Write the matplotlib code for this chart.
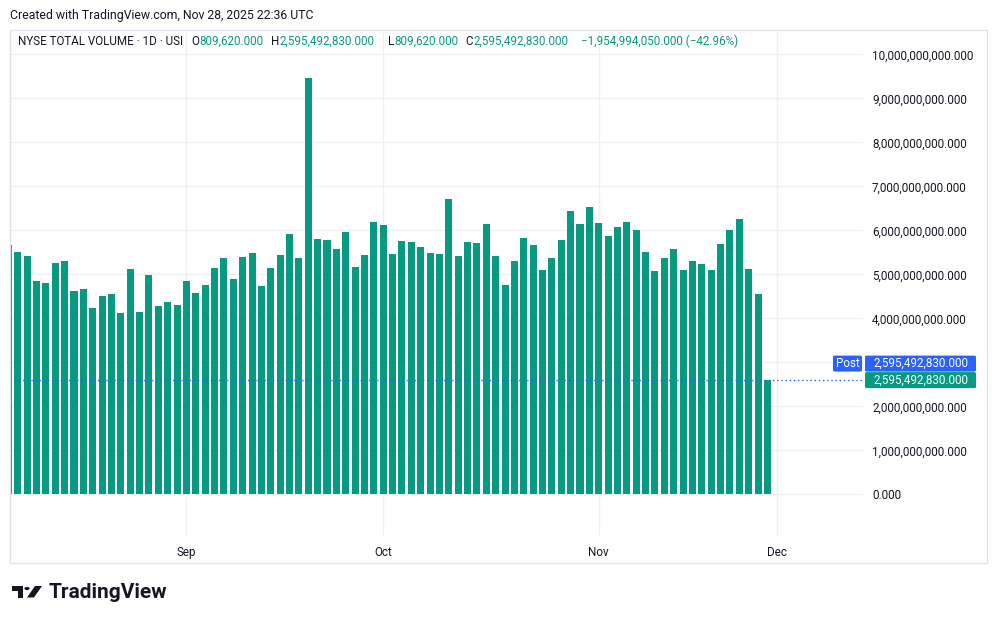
import numpy as np
import matplotlib
matplotlib.use('Agg')
import matplotlib.pyplot as plt
from matplotlib.patches import FancyBboxPatch, Rectangle, Polygon, Circle

# NYSE total volume, daily, in billions
aug_vol = [5.67, 5.51, 5.42, 4.85, 4.80, 5.26, 5.30, 4.62, 4.67, 4.23,
           4.51, 4.55, 4.12, 5.12, 4.14, 4.98, 4.28, 4.37, 4.30]
sep_vol = [4.85, 4.58, 4.76, 5.14, 5.37, 4.89, 5.39, 5.48, 4.73, 5.14,
           5.44, 5.92, 5.37, 9.46, 5.80, 5.78, 5.58, 5.96, 5.17, 5.44, 6.19]
oct_vol = [6.12, 5.46, 5.76, 5.73, 5.62, 5.48, 5.46, 6.71, 5.42, 5.73,
           5.71, 6.14, 5.42, 4.76, 5.30, 5.83, 5.67, 5.10, 5.37, 5.78,
           6.44, 6.14, 6.53]
nov_vol = [6.17, 5.87, 6.08, 6.19, 6.01, 5.51, 5.08, 5.37, 5.58, 5.10,
           5.30, 5.23, 5.10, 5.69, 6.01, 6.26, 5.12, 4.55, 2.59549283]
month_labels = ['Sep', 'Oct', 'Nov', 'Dec']
price_ticks = [0, 1, 2, 3, 4, 5, 6, 7, 8, 9, 10]  # billions

last_open = 809620.0
last_close = 2595492830.0
change = -1954994050.0
change_pct = -42.96

volume = np.array(aug_vol + sep_vol + oct_vol + nov_vol) * 1e9
month_pos = np.cumsum([len(aug_vol), len(sep_vol), len(oct_vol), len(nov_vol)])

green = '#089981'
blue = '#2962ff'
dark = '#131722'
grid_col = '#f0f0f1'

plt.rcParams['font.family'] = ['Roboto', 'DejaVu Sans']

W, H = 998, 624
fig = plt.figure(figsize=(W / 100, H / 100), dpi=100)
fig.patch.set_facecolor('white')


def fx(x):
    return x / W


def fy(y):
    return 1 - y / H


# pane: x 10..863 px, y 30..535 px
ax = fig.add_axes([fx(10), fy(535), fx(863) - fx(10), fy(30) - fy(535)])
x = np.arange(len(volume))
ax.bar(x, volume, width=0.75, color=green, zorder=2)

ax.set_xlim(0.17, 91.2)
ax.set_ylim(-0.925e9, 10.552e9)
ax.set_axisbelow(True)
ax.grid(True, color=grid_col, lw=1)
for s in ax.spines.values():
    s.set_visible(False)

ax.set_xticks(month_pos)
ax.set_xticklabels(month_labels)
ax.yaxis.tick_right()
ax.set_yticks(np.array(price_ticks) * 1e9)
ax.set_yticklabels(['' if v == 3 else f'{v * 1e9:,.3f}' for v in price_ticks])
ax.tick_params(axis='y', length=0, pad=6.5, labelsize=8.4, labelcolor=dark)
ax.tick_params(axis='x', length=0, pad=8, labelsize=8.4, labelcolor=dark)

# last price dotted line
ax.axhline(last_close, color=blue, lw=1, ls=(0, (1, 2)), zorder=3)

# outer frame
fig.patches.append(Rectangle((fx(10), fy(563)), fx(987) - fx(10), fy(30) - fy(563),
                             transform=fig.transFigure, fill=False, ec='#e0e3eb', lw=1))

# price badges
fig.canvas.draw()
y_last = H - ax.transData.transform((0, last_close))[1]


def badge(x0, x1, yc, h, txt, color):
    fig.patches.append(FancyBboxPatch((fx(x0), fy(yc + h / 2)), fx(x1) - fx(x0), h / H,
                                      boxstyle='round,pad=0,rounding_size=0.002',
                                      transform=fig.transFigure, fc=color, ec='none'))
    fig.text(fx((x0 + x1) / 2), fy(yc), txt, color='white', fontsize=8.4,
             ha='center', va='center')


badge(865, 976, y_last, 16, f'{last_close:,.3f}', green)
badge(865, 976, y_last - 16.5, 16, f'{last_close:,.3f}', blue)
badge(833, 862, y_last - 16.5, 16, 'Post', blue)

# header legend
fs = 8.4
fig.text(fx(10), fy(15), 'Created with TradingView.com, Nov 28, 2025 22:36 UTC',
         fontsize=8.8, color=dark, va='center')
hy = fy(41.5)
fig.text(fx(18), hy, 'NYSE TOTAL VOLUME · 1D · USI', fontsize=fs, color=dark, va='center')
pieces = [(191, 'O', dark), (199.5, f'{last_open:,.3f}', green),
          (271, 'H', dark), (280, f'{last_close:,.3f}', green),
          (388, 'L', dark), (394.5, f'{last_open:,.3f}', green),
          (465, 'C', dark), (474, f'{last_close:,.3f}', green),
          (581, f'{change:,.3f} ({change_pct:.2f}%)'.replace('-', '\u2212'), green)]
for px, t, c in pieces:
    fig.text(fx(px), hy, t, fontsize=fs, color=c, va='center')

# TradingView logo
k = dark
fig.patches.append(Polygon([(fx(12), fy(586)), (fx(23), fy(586)), (fx(23), fy(597.5)),
                            (fx(17.5), fy(597.5)), (fx(17.5), fy(591)), (fx(12), fy(591))],
                           closed=True, transform=fig.transFigure, fc=k, ec='none'))
fig.patches.append(Circle((fx(27), fy(588.5)), 2.6 / W, transform=fig.transFigure,
                          fc=k, ec='none'))
fig.patches.append(Polygon([(fx(35), fy(586)), (fx(42), fy(586)), (fx(34), fy(597.5)),
                            (fx(27), fy(597.5))],
                           closed=True, transform=fig.transFigure, fc=k, ec='none'))
fig.text(fx(49), fy(593), 'TradingView', fontsize=15, fontweight='bold',
         color=k, va='center')

fig.savefig('out.png', dpi=100, facecolor='white')
